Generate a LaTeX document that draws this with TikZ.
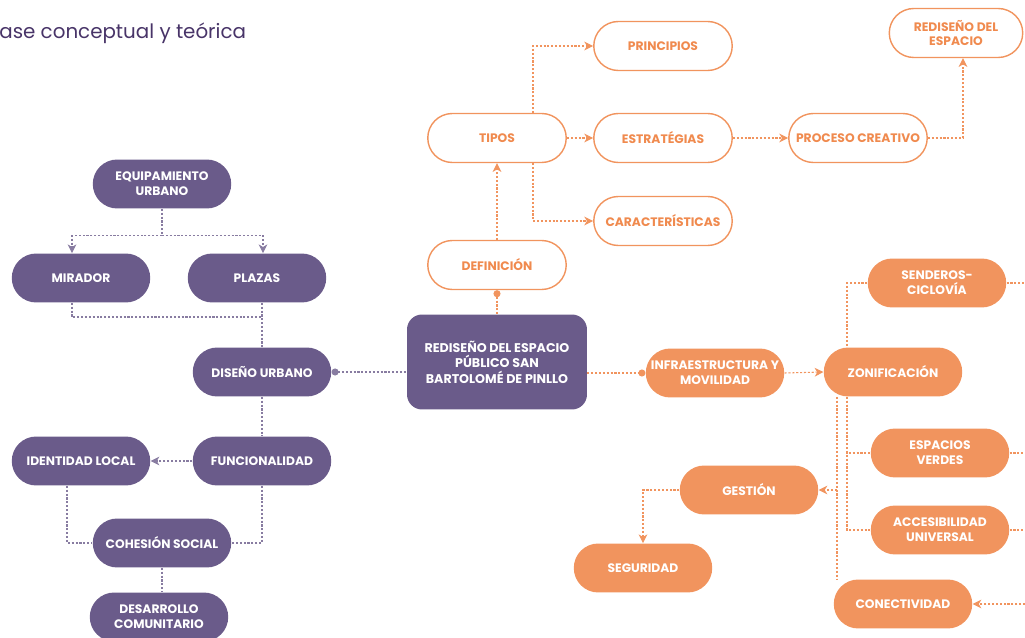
\documentclass[tikz,border=0pt]{standalone}
\usepackage{fontspec}
\setmainfont{Poppins}
\usetikzlibrary{shapes.misc,arrows.meta}
\definecolor{morado}{RGB}{106,91,138}
\definecolor{titulo}{RGB}{72,52,104}
\definecolor{naranja}{RGB}{241,148,94}
\definecolor{naranjatxt}{RGB}{240,138,78}
\begin{document}
\begin{tikzpicture}[x=0.02cm,y=-0.02cm,
  caja/.style={rounded rectangle,minimum width=2.84cm,minimum height=0.98cm,inner sep=1pt,
    align=center,font=\fontsize{7}{8.4}\selectfont\bfseries},
  lila/.style={caja,fill=morado,text=white},
  relleno/.style={caja,fill=naranja,text=white},
  borde/.style={caja,draw=naranja,line width=0.8pt,fill=white,text=naranjatxt},
  pline/.style={draw=morado!80,line width=0.6pt,dash pattern=on 1.2pt off 1pt},
  oline/.style={draw=naranja,line width=0.6pt,dash pattern=on 1.2pt off 1pt},
  >={Stealth[length=5pt,width=5pt,inset=1.5pt]}]
\useasboundingbox (0,0) rectangle (1025,638);
\node[anchor=west,inner sep=0,text=titulo,font=\fontsize{11.3}{13}\selectfont] (titulo) at (-1,33) {ase conceptual y teórica};

\node[lila] (equip) at (162,184) {EQUIPAMIENTO\\URBANO};
\node[lila] (mirador) at (81,278) {MIRADOR};
\node[lila] (plazas) at (257,278) {PLAZAS};
\node[lila] (diseno) at (262,372) {DISEÑO URBANO};
\node[lila] (funcion) at (262,461) {FUNCIONALIDAD};
\node[lila] (identidad) at (81,461) {IDENTIDAD LOCAL};
\node[lila] (cohesion) at (162,543) {COHESIÓN SOCIAL};
\node[lila] (desarrollo) at (159,617) {DESARROLLO\\COMUNITARIO};
\node[fill=morado,text=white,rounded corners=0.3cm,minimum width=3.6cm,minimum height=1.9cm,align=center,
  font=\fontsize{7.2}{8.8}\selectfont\bfseries] (central) at (497,362) {REDISEÑO DEL ESPACIO\\PÚBLICO SAN\\BARTOLOMÉ DE PINLLO};

\node[borde] (definicion) at (497,265) {DEFINICIÓN};
\node[borde] (tipos) at (497,138) {TIPOS};
\node[borde] (principios) at (663,46) {PRINCIPIOS};
\node[borde] (estrategias) at (663,138) {ESTRATÉGIAS};
\node[borde] (caracteristicas) at (663,221) {CARACTERÍSTICAS};
\node[borde] (proceso) at (858,138) {PROCESO CREATIVO};
\node[borde,minimum width=2.74cm] (rediseno) at (956,33) {REDISEÑO DEL\\ESPACIO};

\node[relleno] (infra) at (715,373) {INFRAESTRUCTURA Y\\MOVILIDAD};
\node[relleno] (zonif) at (893,372) {ZONIFICACIÓN};
\node[relleno] (senderos) at (937,283) {SENDEROS-\\CICLOVÍA};
\node[relleno] (espacios) at (940,453) {ESPACIOS\\VERDES};
\node[relleno] (accesib) at (940,530) {ACCESIBILIDAD\\UNIVERSAL};
\node[relleno] (gestion) at (749,490) {GESTIÓN};
\node[relleno] (seguridad) at (643,568) {SEGURIDAD};
\node[relleno] (conect) at (903,604) {CONECTIVIDAD};

\coordinate (jm) at (262,317);
\coordinate (borde1) at (1025,283);
\coordinate (borde2) at (1025,453);
\coordinate (borde3) at (1025,530);
\coordinate (borde4) at (1025,604);

\draw[pline,->] (equip.south) -- ++(0,27) -| ([xshift=-0.18cm]mirador.north);
\draw[pline,->] (equip.south) ++(0,27) -| ([xshift=0.12cm]plazas.north);
\draw[pline] ([xshift=-0.18cm]mirador.south) |- (jm);
\draw[pline] (diseno.north |- plazas.south) -- (diseno.north);
\draw[pline,{Circle[length=4pt]}-] (diseno.east) -- (central.west |- diseno.east);
\draw[pline] (diseno.south) -- (funcion.north);
\draw[pline,->] (funcion.west) -- (identidad.east);
\draw[pline] ([xshift=-0.28cm]identidad.south) |- (cohesion.west);
\draw[pline] (funcion.south) |- (cohesion.east);
\draw[pline] (cohesion.south) -- (cohesion.south |- desarrollo.north);

\draw[oline,{Circle[length=4pt]}-] (definicion.south) -- (central.north);
\draw[oline,->] (definicion.north) -- (tipos.south);
\draw[oline,->] ([xshift=0.72cm]tipos.north) |- (principios.west);
\draw[oline,->] (tipos.east) -- (estrategias.west);
\draw[oline,->] ([xshift=0.72cm]tipos.south) |- (caracteristicas.west);
\draw[oline,->] (estrategias.east) -- (proceso.west);
\draw[oline,->] (proceso.east) -| ([xshift=0.14cm]rediseno.south);

\draw[oline,-{Circle[length=4pt]}] (central.east |- infra.west) -- (infra.west);
\draw[oline,->] (infra.east) -- (zonif.west);
\draw[oline] (senderos.west) -| ([xshift=-0.92cm]zonif.north);
\draw[oline] ([xshift=-0.92cm]zonif.south) |- (espacios.west);
\draw[oline] ([xshift=-0.92cm]zonif.south) |- (accesib.west);
\draw[oline] ([xshift=-1.12cm]zonif.south) -- ([xshift=-1.12cm]zonif.south |- conect.north);
\draw[oline,->] ([xshift=-1.12cm]zonif.south |- gestion.east) -- (gestion.east);
\draw[oline,->] (gestion.west) -| (seguridad.north);
\draw[oline] (senderos.east) -- (borde1);
\draw[oline] (espacios.east) -- (borde2);
\draw[oline] (accesib.east) -- (borde3);
\draw[oline,->] (borde4) -- (conect.east);
\end{tikzpicture}
\end{document}
